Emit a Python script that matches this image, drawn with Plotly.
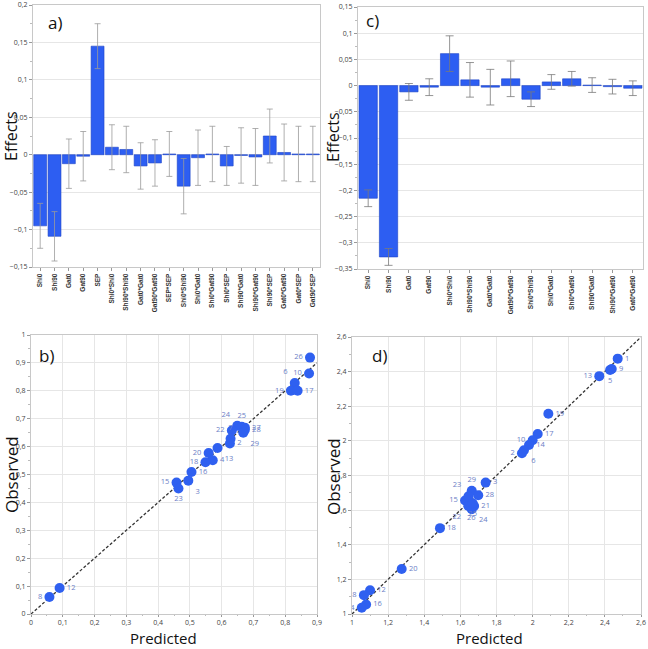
import plotly.graph_objects as go

# ---------------- data ----------------
a_cats = ["Shi0", "Shi90", "Gat0", "Gat90", "SEP", "Shi0*Shi0", "Shi90*Shi90", "Gat0*Gat0",
          "Gat90*Gat90", "SEP*SEP", "Shi0*Shi90", "Shi0*Gat0", "Shi0*Gat90", "Shi0*SEP",
          "Shi90*Gat0", "Shi90*Gat90", "Shi90*SEP", "Gat0*Gat90", "Gat0*SEP", "Gat90*SEP"]
a_effects = [-0.095, -0.109, -0.012, -0.002, 0.145, 0.010, 0.007, -0.015, -0.011, 0.001,
             -0.042, -0.004, 0.001, -0.015, -0.001, -0.003, 0.025, 0.003, 0.001, 0.001]
a_err = [0.030, 0.033, 0.033, 0.033, 0.030, 0.030, 0.031, 0.031, 0.031, 0.030,
         0.037, 0.037, 0.037, 0.026, 0.037, 0.038, 0.036, 0.038, 0.037, 0.037]

c_cats = ["Shi0", "Shi90", "Gat0", "Gat90", "Shi0*Shi0", "Shi90*Shi90", "Gat0*Gat0",
          "Gat90*Gat90", "Shi0*Shi90", "Shi0*Gat0", "Shi0*Gat90", "Shi90*Gat0",
          "Shi90*Gat90", "Gat0*Gat90"]
c_effects = [-0.215, -0.327, -0.012, -0.003, 0.061, 0.011, -0.003, 0.013, -0.026, 0.007,
             0.013, 0.001, -0.002, -0.005]
c_err = [0.016, 0.016, 0.016, 0.016, 0.034, 0.033, 0.034, 0.034, 0.014, 0.014,
         0.014, 0.014, 0.014, 0.014]

b_ids = ["26", "10", "6", "19", "17", "24", "25", "22", "27", "28", "29", "7", "2", "13",
         "20", "4", "18", "16", "15", "23", "3", "12", "8"]
b_pred = [0.878, 0.875, 0.830, 0.818, 0.839, 0.649, 0.663, 0.632, 0.673, 0.673, 0.668,
          0.628, 0.626, 0.587, 0.559, 0.572, 0.549, 0.505, 0.458, 0.464, 0.495, 0.090, 0.058]
b_obs = [0.919, 0.862, 0.828, 0.800, 0.800, 0.675, 0.671, 0.658, 0.668, 0.660, 0.650,
         0.628, 0.611, 0.595, 0.577, 0.551, 0.544, 0.509, 0.471, 0.450, 0.478, 0.093, 0.061]
b_pos = ["middle left", "middle left", "top left", "middle left", "middle right",
         "top left", "top center", "middle left", "middle right", "middle right",
         "bottom right", "top center", "middle right", "bottom right", "middle left",
         "middle right", "middle left", "middle right", "middle left", "bottom center",
         "bottom right", "middle right", "middle left"]

d_ids = ["1", "9", "5", "13", "19", "17", "10", "14", "6", "2", "3", "29", "15", "23",
         "28", "21", "24", "22", "26", "25", "18", "20", "12", "8", "16", "4"]
d_pred = [2.471, 2.438, 2.429, 2.369, 2.087, 2.028, 2.000, 1.980, 1.952, 1.941, 1.740,
          1.663, 1.626, 1.645, 1.699, 1.676, 1.663, 1.644, 1.660, 1.668, 1.487, 1.275,
          1.100, 1.066, 1.078, 1.054]
d_obs = [2.475, 2.415, 2.409, 2.374, 2.157, 2.040, 2.004, 1.976, 1.946, 1.929, 1.759,
         1.712, 1.656, 1.680, 1.686, 1.624, 1.605, 1.624, 1.615, 1.640, 1.496, 1.260,
         1.137, 1.109, 1.055, 1.036]
d_pos = ["middle right", "middle right", "bottom center", "middle left", "middle right",
         "middle right", "middle left", "middle right", "bottom right", "middle left",
         "middle right", "top center", "middle left", "top left", "middle right",
         "middle right", "bottom right", "bottom left", "bottom center", "bottom center",
         "middle right", "middle right", "middle right", "middle left", "middle right",
         "middle left"]

b_line = [0, 0.9]
d_line = [1, 2.6]

# ---------------- styles ----------------
W, H = 648, 649
BAR = "#2d5ef2"
DOT = "#2f60f0"
LBL = "#6b7ec6"
GRID = "#e6e6e6"
FRAME = "#c8c8c8"
TICKF = dict(family="Open Sans", size=7, color="#444")
FONT = "Open Sans"


def px(x0, x1):
    return [x0 / W, x1 / W]


def py(top, bottom):
    return [1 - bottom / H, 1 - top / H]


fig = go.Figure()

fig.add_trace(go.Bar(
    x=a_cats, y=a_effects, xaxis="x", yaxis="y",
    marker=dict(color=BAR, line=dict(color="#1d43c6", width=0.6)),
    error_y=dict(type="data", array=a_err, color="#9a9a9a", thickness=0.8, width=3),
    showlegend=False))

fig.add_trace(go.Bar(
    x=c_cats, y=c_effects, xaxis="x2", yaxis="y2",
    marker=dict(color=BAR, line=dict(color="#1d43c6", width=0.6)),
    error_y=dict(type="data", array=c_err, color="#7a7a7a", thickness=0.8, width=4),
    showlegend=False))

fig.add_trace(go.Scatter(
    x=b_line, y=b_line, xaxis="x3", yaxis="y3", mode="lines",
    line=dict(color="#333333", width=1.3, dash="3px,2px"), showlegend=False))
fig.add_trace(go.Scatter(
    x=b_pred, y=b_obs, text=b_ids, textposition=b_pos, xaxis="x3", yaxis="y3",
    mode="markers+text", marker=dict(color=DOT, size=10),
    textfont=dict(family=FONT, size=7.5, color=LBL), showlegend=False))

fig.add_trace(go.Scatter(
    x=d_line, y=d_line, xaxis="x4", yaxis="y4", mode="lines",
    line=dict(color="#333333", width=1.3, dash="3px,2px"), showlegend=False))
fig.add_trace(go.Scatter(
    x=d_pred, y=d_obs, text=d_ids, textposition=d_pos, xaxis="x4", yaxis="y4",
    mode="markers+text", marker=dict(color=DOT, size=10),
    textfont=dict(family=FONT, size=7.5, color=LBL), showlegend=False))

common_frame = dict(showline=True, linecolor=FRAME, linewidth=1, mirror=True,
                    automargin=False, zeroline=False, tickfont=TICKF,
                    ticks="outside", ticklen=3, tickcolor="#999")

bar_xaxis = dict(common_frame, showgrid=False, tickangle=-90,
                 tickfont=dict(family="Liberation Sans", size=6.5, color="#333", weight="bold"))

fig.update_layout(
    width=W, height=H, template="none",
    paper_bgcolor="white", plot_bgcolor="white",
    margin=dict(l=0, r=0, t=0, b=0),
    separators=",.",
    bargap=0.1,
    xaxis=dict(bar_xaxis, domain=px(33, 320), anchor="y"),
    yaxis=dict(common_frame, domain=py(5, 267), anchor="x", range=[-0.15, 0.2], dtick=0.05,
               showgrid=True, gridcolor=GRID,
               minor=dict(ticks="outside", ticklen=2, tickcolor="#bbb", dtick=0.025)),
    xaxis2=dict(bar_xaxis, domain=px(358, 643), anchor="y2"),
    yaxis2=dict(common_frame, domain=py(7, 269), anchor="x2", range=[-0.35, 0.15], dtick=0.05,
                showgrid=True, gridcolor=GRID,
                minor=dict(ticks="outside", ticklen=2, tickcolor="#bbb", dtick=0.025)),
    xaxis3=dict(common_frame, domain=px(31, 317), anchor="y3", range=[0, 0.9], dtick=0.1,
                showgrid=True, gridcolor=GRID, ticklen=2,
                minor=dict(ticks="outside", ticklen=1, tickcolor="#bbb", dtick=0.05)),
    yaxis3=dict(common_frame, domain=py(335, 614), anchor="x3", range=[0, 1], dtick=0.1,
                showgrid=True, gridcolor=GRID,
                minor=dict(ticks="outside", ticklen=2, tickcolor="#bbb", dtick=0.05)),
    xaxis4=dict(common_frame, domain=px(352, 641), anchor="y4", range=[1, 2.6], dtick=0.2,
                showgrid=True, gridcolor=GRID, ticklen=2,
                minor=dict(ticks="outside", ticklen=1, tickcolor="#bbb", dtick=0.1)),
    yaxis4=dict(common_frame, domain=py(337, 614), anchor="x4", range=[1, 2.6], dtick=0.2,
                showgrid=True, gridcolor=GRID,
                minor=dict(ticks="outside", ticklen=2, tickcolor="#bbb", dtick=0.1)),
)

def ann(text, x, y, size, angle=0, xanchor="center", yanchor="middle"):
    fig.add_annotation(text=text, x=x / W, y=1 - y / H, xref="paper", yref="paper",
                       showarrow=False, textangle=angle, xanchor=xanchor, yanchor=yanchor,
                       font=dict(family=FONT, size=size, color="#111"))

ann("a)", 46, 22, 17, xanchor="left")
ann("c)", 364, 21, 17, xanchor="left")
ann("b)", 37, 355, 17, xanchor="left")
ann("d)", 370, 355, 17, xanchor="left")
ann("Effects", 11, 136, 16, angle=-90)
ann("Effects", 333, 137, 16, angle=-90)
ann("Observed", 11, 475, 17, angle=-90)
ann("Observed", 333, 476, 17, angle=-90)
ann("Predicted", 163, 650, 15, yanchor="bottom")
ann("Predicted", 489, 650, 15, yanchor="bottom")

fig.write_html("out.html")
